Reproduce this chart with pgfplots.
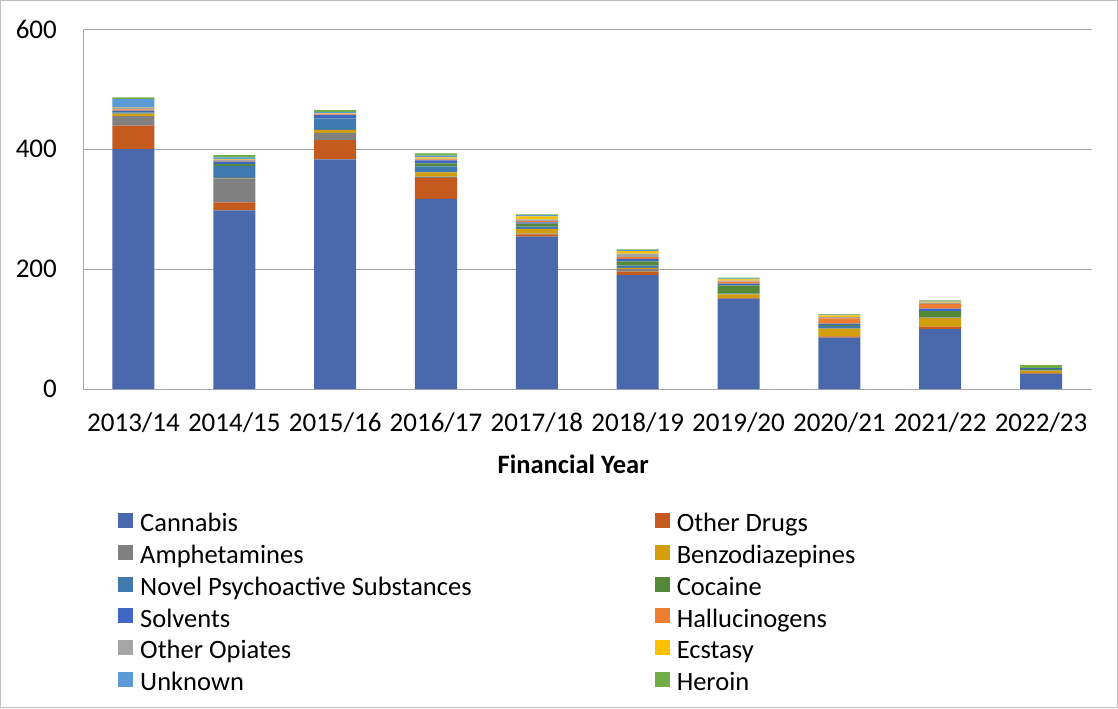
\documentclass[border=0pt]{standalone}
\usepackage{fontspec}
\setmainfont{Carlito}
\usepackage{pgfplots}
\usepackage{pgfplotstable}
\pgfplotsset{compat=1.18}
\definecolor{cCan}{HTML}{4A69AC}
\definecolor{cOD}{HTML}{C55A1F}
\definecolor{cAmp}{HTML}{808080}
\definecolor{cBen}{HTML}{D39E0C}
\definecolor{cNPS}{HTML}{4079B0}
\definecolor{cCoc}{HTML}{54893A}
\definecolor{cSol}{HTML}{3D66C5}
\definecolor{cHal}{HTML}{ED7D31}
\definecolor{cOO}{HTML}{A5A5A5}
\definecolor{cEcs}{HTML}{FFC000}
\definecolor{cUnk}{HTML}{5B9BD5}
\definecolor{cHer}{HTML}{70AD47}
\pgfplotstableread{
x Cannabis OtherDrugs Amph Benzo NPS Cocaine Solvents Halluc OtherOpiates Ecstasy Unknown Heroin
0 400 39 16 4 2 1 2 2 2 1 14 3
1 298 13 40 1 20 3 4 1 2 1 3 4
2 383 32 12 5 19 1 5 1 1 1 2 3
3 317 35 2 7 10 5 5 2 1 2 3 4
4 254 4 1 8 4 5 2 2 3 5 2 1
5 190 6 4 2 4 7 4 3 6 4 2 1
6 151 1 0 6 1 14 3 3 2 2 1 2
7 86 2 0 13 4 2 2 9 2 3 1 1
8 100 4 0 15 1 10 4 8 2 2 1 1
9 26 1 0 4 1 2 1 0 0 0 0 5
}\datatable
\begin{document}
\begin{tikzpicture}
\begin{axis}[name=ax,
  scale only axis, width=1008pt, height=360pt,
  ybar stacked, bar width=42pt,
  xmin=-0.5, xmax=9.5, ymin=0, ymax=600,
  xtick={0,...,9},
  xticklabels={2013/14,2014/15,2015/16,2016/17,2017/18,2018/19,2019/20,2020/21,2021/22,2022/23},
  ytick={0,200,400,600},
  major tick length=0pt,
  ymajorgrids, grid style={draw=black!35, line width=0.8pt},
  axis x line*=bottom, axis y line*=left,
  axis line style={draw=black!35, line width=0.8pt, -},
  tick label style={font=\fontsize{27}{32}\selectfont, /pgf/number format/assume math mode=true},
  xticklabel style={anchor=base, inner sep=0pt, yshift=-42pt},
  yticklabel style={anchor=east, inner sep=0pt, xshift=-26pt},
  xlabel={\textbf{Financial Year}},
  xlabel style={font=\fontsize{26.5}{31}\selectfont, at={(axis description cs:0.486,0)}, anchor=base, inner sep=0pt, yshift=-84pt},
  legend columns=2,
  legend cell align=left,
  legend image code/.code={\fill[#1] (0pt,0.5pt) rectangle (15pt,15.5pt); \path (22pt,0pt);},
  legend style={draw=none, fill=none, font=\fontsize{26.5}{31}\selectfont,
    at={(axis description cs:0.0347,-0.342)}, anchor=north west, inner sep=0pt,
    row sep=0pt,
    /tikz/every even column/.append style={column sep=183pt},
    nodes={inner sep=0pt, text height=19pt, text depth=12.8pt}},
  every axis plot/.append style={draw=none},
]
\addplot[fill=cCan] table[x=x,y=Cannabis]{\datatable};
\addplot[fill=cOD] table[x=x,y=OtherDrugs]{\datatable};
\addplot[fill=cAmp] table[x=x,y=Amph]{\datatable};
\addplot[fill=cBen] table[x=x,y=Benzo]{\datatable};
\addplot[fill=cNPS] table[x=x,y=NPS]{\datatable};
\addplot[fill=cCoc] table[x=x,y=Cocaine]{\datatable};
\addplot[fill=cSol] table[x=x,y=Solvents]{\datatable};
\addplot[fill=cHal] table[x=x,y=Halluc]{\datatable};
\addplot[fill=cOO] table[x=x,y=OtherOpiates]{\datatable};
\addplot[fill=cEcs] table[x=x,y=Ecstasy]{\datatable};
\addplot[fill=cUnk] table[x=x,y=Unknown]{\datatable};
\addplot[fill=cHer] table[x=x,y=Heroin]{\datatable};
\legend{Cannabis,Other Drugs,Amphetamines,Benzodiazepines,Novel Psychoactive Substances,Cocaine,Solvents,Hallucinogens,Other Opiates,Ecstasy,Unknown,Heroin}
\end{axis}
\draw[black!25, line width=1pt] ([shift={(-82.5pt,-318.5pt)}]ax.south west) rectangle ([shift={(26pt,28.5pt)}]ax.north east);
\end{tikzpicture}
\end{document}
